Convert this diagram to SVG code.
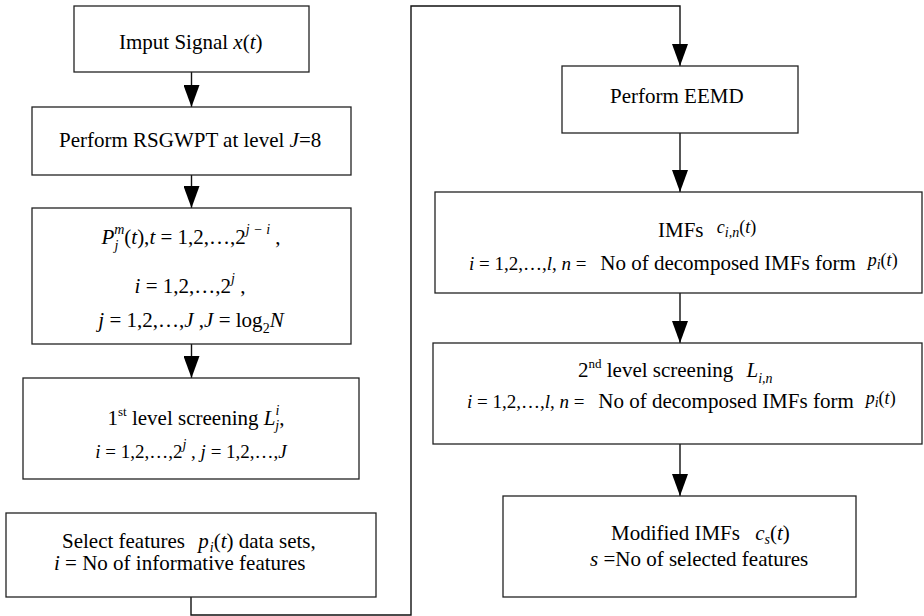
<svg xmlns="http://www.w3.org/2000/svg" width="924" height="616" viewBox="0 0 924 616">
<defs>
<style>
.box{fill:#fff;stroke:#222;stroke-width:1.3}
.ln{fill:none;stroke:#111;stroke-width:1.4}
.t{font-family:"Liberation Serif","Times New Roman",serif;font-size:21px;fill:#000}
.m{font-size:19px}
.i{font-style:italic}
.sm{font-size:14px}
.xs{font-size:13px}
</style>
<marker id="ah" viewBox="0 0 22 16" refX="22" refY="8" markerWidth="22" markerHeight="16" markerUnits="userSpaceOnUse" orient="auto">
<path d="M0,0 L22,8 L0,16 z" fill="#000"/>
</marker>
</defs>
<rect width="924" height="616" fill="#fff"/>

<g id="connectors">
<line class="ln" x1="191.5" y1="72" x2="191.5" y2="107" marker-end="url(#ah)"/>
<line class="ln" x1="191.5" y1="175" x2="191.5" y2="208" marker-end="url(#ah)"/>
<line class="ln" x1="191.5" y1="344" x2="191.5" y2="378" marker-end="url(#ah)"/>
<path class="ln" d="M191,597 V615 H411 V6 H680 V66" marker-end="url(#ah)"/>
<line class="ln" x1="680" y1="133" x2="680" y2="192" marker-end="url(#ah)"/>
<line class="ln" x1="680" y1="293" x2="680" y2="343" marker-end="url(#ah)"/>
<line class="ln" x1="680" y1="444" x2="680" y2="496" marker-end="url(#ah)"/>
</g>

<g id="n-input">
<rect class="box" x="74" y="6" width="235" height="66"/>
<text class="t" x="119" y="49">Imput Signal <tspan class="i">x</tspan>(<tspan class="i">t</tspan>)</text>
</g>

<g id="n-rsgwpt">
<rect class="box" x="32" y="107" width="319" height="68"/>
<text class="t" x="59" y="147">Perform RSGWPT at level <tspan class="i">J</tspan>=8</text>
</g>

<g id="n-packets">
<rect class="box" x="32" y="208" width="319" height="136"/>
<text class="t" x="191" y="244" text-anchor="middle"><tspan class="i">P</tspan><tspan class="i sm" dy="-10">m</tspan><tspan class="i sm" dx="-10" dy="16">j</tspan><tspan dx="6" dy="-6">(<tspan class="i">t</tspan>),<tspan class="i">t</tspan> = 1,2,…,2</tspan><tspan class="i sm" dy="-10">j − i</tspan><tspan dy="10"> ,</tspan></text>
<text class="t" x="190" y="293" text-anchor="middle"><tspan class="i">i</tspan> = 1,2,…,2<tspan class="i sm" dy="-10">j</tspan><tspan dy="10"> ,</tspan></text>
<text class="t" x="191" y="327" text-anchor="middle"><tspan class="i">j</tspan> = 1,2,…,<tspan class="i">J</tspan> ,<tspan class="i">J</tspan> = log<tspan class="sm" dy="6">2</tspan><tspan class="i" dy="-6">N</tspan></text>
</g>

<g id="n-screen1">
<rect class="box" x="23" y="378" width="336" height="101"/>
<text class="t" x="196" y="425" text-anchor="middle">1<tspan class="xs" dy="-9">st</tspan><tspan dy="9"> level screening </tspan><tspan class="i">L</tspan><tspan class="i sm" dy="-10">i</tspan><tspan class="i sm" dx="-4" dy="15">j</tspan><tspan dy="-5">,</tspan></text>
<text class="t m" x="191" y="458" text-anchor="middle"><tspan class="i">i</tspan> = 1,2,…,2<tspan class="i sm" dy="-9">j</tspan><tspan dy="9"> , </tspan><tspan class="i">j</tspan> = 1,2,…,<tspan class="i">J</tspan></text>
</g>

<g id="n-select">
<rect class="box" x="6" y="513" width="370" height="84"/>
<text class="t" x="62" y="548">Select features <tspan class="i" dx="8">p</tspan><tspan class="i sm" dx="1" dy="4">i</tspan><tspan dy="-4">(<tspan class="i">t</tspan>) data sets,</tspan></text>
<text class="t" x="54" y="570"><tspan class="i">i</tspan> = No of informative features</text>
</g>

<g id="n-eemd">
<rect class="box" x="562" y="66" width="236" height="67"/>
<text class="t" x="610" y="103">Perform EEMD</text>
</g>

<g id="n-imfs">
<rect class="box" x="435" y="192" width="487" height="101"/>
<text class="t" x="658" y="237">IMFs <tspan class="i" font-size="18" dx="8" dy="-4">c</tspan><tspan class="i sm" dy="4">i,n</tspan><tspan font-size="18" dy="-4">(<tspan class="i">t</tspan>)</tspan></text>
<text class="t" x="469" y="270"><tspan class="m"><tspan class="i">i</tspan> = 1,2,…,<tspan class="i">l</tspan>, <tspan class="i">n</tspan> = </tspan><tspan dx="9">No of decomposed IMFs form</tspan><tspan class="i" font-size="18" dx="12" dy="-4">p</tspan><tspan class="i sm" dy="3">i</tspan><tspan font-size="18" dy="-3">(<tspan class="i">t</tspan>)</tspan></text>
</g>

<g id="n-screen2">
<rect class="box" x="433" y="343" width="489" height="101"/>
<text class="t" x="578" y="377">2<tspan class="xs" dy="-9">nd</tspan><tspan dy="9"> level screening </tspan><tspan class="i" dx="8">L</tspan><tspan class="i sm" dy="6">i,n</tspan></text>
<text class="t" x="467" y="408"><tspan class="m"><tspan class="i">i</tspan> = 1,2,…,<tspan class="i">l</tspan>, <tspan class="i">n</tspan> = </tspan><tspan dx="9">No of decomposed IMFs form</tspan><tspan class="i" font-size="18" dx="12" dy="-4">p</tspan><tspan class="i sm" dy="3">i</tspan><tspan font-size="18" dy="-3">(<tspan class="i">t</tspan>)</tspan></text>
</g>

<g id="n-modified">
<rect class="box" x="503" y="496" width="353" height="101"/>
<text class="t" x="611" y="540">Modified IMFs <tspan class="i" dx="10">c</tspan><tspan class="i sm" dy="4">s</tspan><tspan dy="-4">(<tspan class="i">t</tspan>)</tspan></text>
<text class="t" x="590" y="566"><tspan class="i">s</tspan> =No of selected features</text>
</g>
</svg>
